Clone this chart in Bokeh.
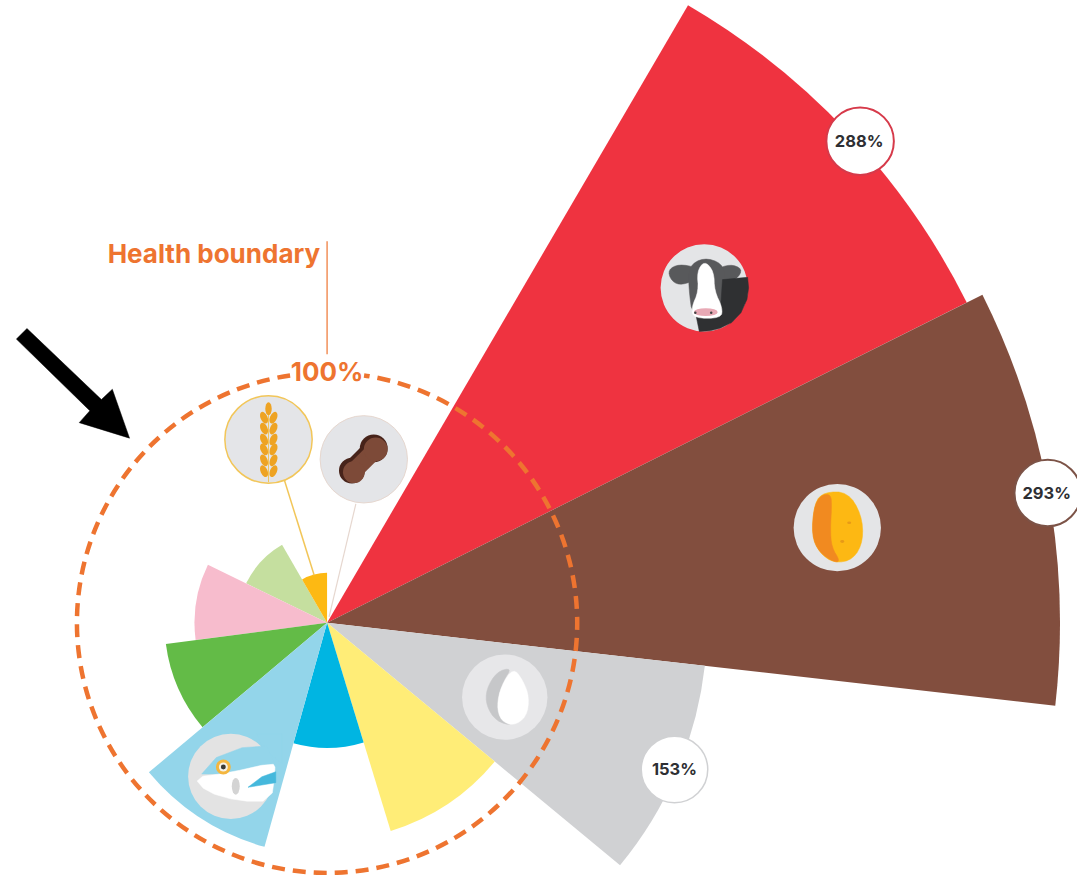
from bokeh.plotting import figure
from bokeh.models import Range1d
from bokeh.core.properties import value
from bokeh.embed import file_html
from bokeh.resources import INLINE

# ---- data ----
categories = ["Beef & lamb", "Starchy vegetables", "Dairy", "Eggs", "Poultry",
              "Fish", "Vegetables", "Fruits", "Legumes", "Whole grains"]
percent = [286, 293, 152, 87, 50, 93, 65, 53, 36, 20]
start_deg = [59.7, 26.6, -6.5, -39.6, -73, -105.6, -140, -172.5, -206, 90]
end_deg = [26.6, -6.5, -39.6, -73, -105.6, -140, -172.5, -206, -240, 120]
colors = ["#ef3340", "#824e3e", "#d0d1d3", "#ffed77", "#00b5e2", "#93d5ea",
          "#63bb47", "#f7bccd", "#c5df9f", "#fdb913"]
draw_order = [8, 7, 9, 0, 1, 2, 3, 6, 4, 5]
callout_text = ["288%", "293%", "153%"]
boundary_value = 100
boundary_label = "Health boundary"
boundary_text = "100%"

# ---- layout ----
W, H = 1077, 875
REF_W, REF_H = 1085, 883
CX, CY, S = 329, 628, 2.52
DARK, FONT = "#2e2f33", "Inter"
ORANGE = "#ee7430"
ICON = "#e4e5e7"


def X(px):
    return (px - CX) / S


def Y(py):
    return (CY - py) / S


p = figure(width=W, height=H, output_backend="svg", toolbar_location=None,
           x_axis_type=None, y_axis_type=None, min_border=0,
           x_range=Range1d(X(0), X(REF_W)), y_range=Range1d(Y(REF_H), Y(0)),
           background_fill_color="white", border_fill_color="white")
p.outline_line_color = None
p.grid.visible = False


def crop(pts, ox, oy):
    return [(ox + a / 3, oy + b / 3) for a, b in pts]


def smooth(pts, n=2):
    for _ in range(n):
        out = []
        for i, a in enumerate(pts):
            b = pts[(i + 1) % len(pts)]
            out.append((.75 * a[0] + .25 * b[0], .75 * a[1] + .25 * b[1]))
            out.append((.25 * a[0] + .75 * b[0], .25 * a[1] + .75 * b[1]))
        pts = out
    return pts


def shape(pts, color, soft=True):
    if soft:
        pts = smooth(pts)
    p.patch([X(a) for a, _ in pts], [Y(b) for _, b in pts],
            fill_color=color, line_color=color, line_width=0.5)


def disc(px, py, r, color, line=None, lw=1.5):
    p.circle(x=[X(px)], y=[Y(py)], radius=r / S, fill_color=color,
             line_color=line if line else None, line_width=lw)


def oval(px, py, w, h, color, deg=0):
    p.ellipse(x=[X(px)], y=[Y(py)], width=w / S, height=h / S, angle=deg,
              angle_units="deg", fill_color=color, line_color=None)


def label(txt, px, py, size, color, align="center"):
    p.text(x=[X(px)], y=[Y(py)], text=[txt], text_font=value(FONT),
           text_font_size=f"{size}px", text_font_style="bold",
           text_color=color, text_align=align, text_baseline="middle")


# ---- wedges ----
for i in draw_order:
    a, b = sorted((start_deg[i], end_deg[i]))
    p.wedge(x=[0], y=[0], radius=percent[i], start_angle=a, end_angle=b,
            start_angle_units="deg", end_angle_units="deg",
            fill_color=colors[i], line_color=None)

# ---- leader lines ----
p.line([X(286), X(316)], [Y(484), Y(580)], line_color="#f2c659", line_width=1.5)
p.line([X(358), X(331)], [Y(508), Y(622)], line_color="#e6d7cf", line_width=1.2)
p.line([X(329), X(329)], [Y(243), Y(357)], line_color=ORANGE, line_width=1.2)

# ---- cow ----
ox, oy = 640, 230
disc(709, 290, 44, ICON)
shape(crop([(98, 125), (130, 108), (185, 118), (175, 160), (130, 172), (105, 155)], ox, oy), "#58595b")
shape(crop([(240, 125), (285, 108), (322, 122), (308, 152), (255, 170)], ox, oy), "#58595b")
shape(crop([(205, 88), (260, 105), (272, 150), (265, 268), (172, 272), (160, 180), (160, 115)], ox, oy), "#58595b")
cow_patch = [(262, 155), (338, 148), (341, 180), (336, 215), (318, 255), (290, 285), (255, 302), (225, 310),
             (192, 312), (183, 268), (255, 262)]
shape(crop(cow_patch, ox, oy), "#2f3032", soft=False)
shape(crop([(208, 98), (236, 130), (238, 190), (262, 240), (258, 272), (175, 272), (168, 240),
            (190, 190), (185, 130)], ox, oy), "#ffffff")
oval(710.5, 314.5, 24, 8, "#e8a9b5")
oval(700, 315, 2.5, 2.5, "#444444")
oval(716, 315, 2.5, 2.5, "#444444")

# ---- potato ----
ox, oy = 790, 470
disc(843, 532, 44, ICON)
shape(crop([(120, 78), (190, 78), (232, 145), (238, 225), (208, 282), (150, 294), (105, 262),
            (82, 210), (90, 110)], ox, oy), "#fdb813")
shape(crop([(140, 84), (108, 88), (88, 125), (82, 210), (104, 260), (148, 290), (168, 288), (142, 245),
            (138, 190), (142, 125)], ox, oy), "#f18a20")
oval(848, 546, 4, 3, "#e79a17")
oval(855, 527, 4, 2.5, "#e79a17")

# ---- milk ----
ox, oy = 450, 640
disc(508, 703, 43, "#e7e7e9")
shape(crop([(195, 100), (150, 112), (118, 165), (118, 215), (148, 262), (200, 276), (165, 245),
            (152, 195), (170, 140)], ox, oy), "#c6c7c9")
shape(crop([(200, 100), (230, 140), (248, 190), (240, 248), (200, 276), (162, 260), (150, 215),
            (163, 155)], ox, oy), "#ffffff")

# ---- fish ----
ox, oy = 130, 720
disc(232, 783, 43, "#e3e3e3")
shape(crop([(385, 60), (460, 60), (460, 150), (400, 100)], ox, oy), "#93d5ea", soft=False)
shape(crop([(218, 182), (262, 132), (340, 102), (415, 97), (438, 150), (370, 168), (300, 182)], ox, oy),
      "#93d5ea", soft=False)
shape(smooth(crop([(195, 192), (300, 178), (432, 148), (442, 165), (428, 264), (330, 264), (232, 236)], ox, oy), 1),
      "#ffffff", soft=False)
shape(crop([(358, 222), (400, 190), (442, 175), (442, 208)], ox, oy), "#45b8dc", soft=False)
oval(237, 793, 8, 17, "#d4d4d4")
disc(224.5, 773.5, 7.5, "#f4b63f")
disc(224.5, 773.5, 4.5, "#f5f2e8")
disc(224.5, 773.5, 2.5, "#3b3a34")

# ---- wheat ----
disc(270, 443, 44, "#e4e5e8", line="#f2c659")
GRAIN = "#eea323"
p.line([X(270), X(270)], [Y(418), Y(486)], line_color="#f2c659", line_width=1)
oval(270, 412, 6.5, 13, GRAIN)
for py in (421, 432, 443, 453, 464, 475):
    oval(265.5, py, 7, 12.5, GRAIN, 24)
    oval(275, py, 7, 12.5, GRAIN, -24)

# ---- peanut ----
disc(366, 463, 44, "#e4e5e8", line="#e6d7cf", lw=1)
p.line([X(354), X(376)], [Y(474), Y(452)], line_color="#47231a", line_width=20)
disc(354, 474.5, 13, "#47231a")
disc(376, 452, 14, "#47231a")
p.line([X(356), X(378)], [Y(475), Y(453)], line_color="#7d4a38", line_width=17)
disc(356, 476, 11, "#7d4a38")
disc(378, 453, 12, "#7d4a38")

# ---- boundary ----
p.arc(x=[0], y=[0], radius=boundary_value, start_angle=98.5, end_angle=81.5,
      start_angle_units="deg", end_angle_units="deg", direction="anticlock",
      line_color=ORANGE, line_width=4.5, line_dash="13 8")

label(boundary_label, 322, 255, 26, ORANGE, "right")
label(boundary_text, 329, 374, 26, ORANGE)

# ---- callouts ----
disc(866, 142, 34, "#ffffff", line="#d63a4a", lw=2)
label(callout_text[0], 865, 142, 16.5, DARK)
disc(1055, 497, 33.5, "#ffffff", line="#7c5347", lw=2)
label(callout_text[1], 1054, 497, 16.5, DARK)
disc(679, 776, 33.5, "#ffffff", line="#d0d1d3", lw=1.5)
label(callout_text[2], 679, 776, 16.5, DARK)

# ---- arrow ----
shape(crop([(48, 335), (80, 303), (305, 518), (338, 487), (390, 635), (238, 588), (270, 552)], 0, 230),
      "#000000", soft=False)

open("out.html", "w").write(file_html(p, INLINE))
